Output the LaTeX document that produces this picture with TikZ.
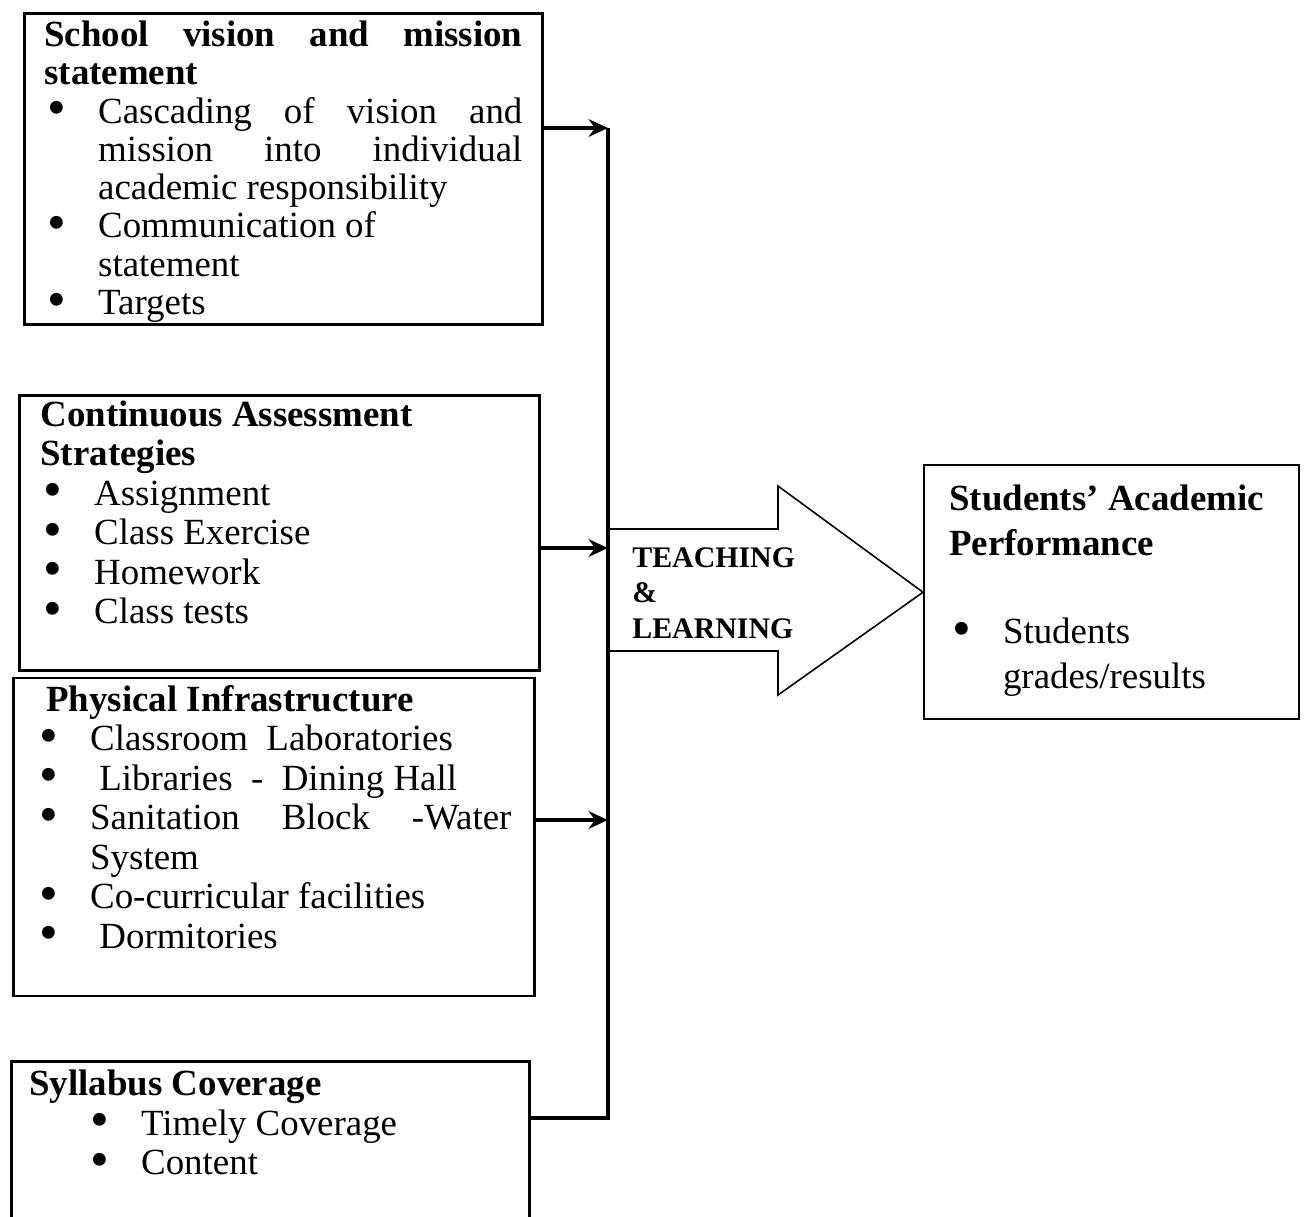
\documentclass[tikz,border=0pt]{standalone}
\usepackage{fontspec}
\setmainfont{Liberation Serif}
\usetikzlibrary{arrows.meta, positioning}
\setlength{\parindent}{0pt}

\newlength{\bulind}\setlength{\bulind}{30.6pt}
\newcommand{\bitem}[1]{\par\hangindent=\bulind\hangafter=1\noindent
  \makebox[\bulind][l]{\hspace{2pt}\raisebox{-0.07em}{\scalebox{1.45}{\textbullet}}}#1}

\begin{document}
\begin{tikzpicture}[>={Stealth[length=11pt,width=10pt]},
  panel/.style={draw, line width=1.6pt, anchor=north west, align=justify,
    inner ysep=0.06cm, font=\fontsize{21}{22.5}\selectfont},
  conn/.style={line width=2.3pt}]
  \useasboundingbox (0,0) rectangle (26.08,-24.32);

  \node[panel, text width=9.56cm, inner xsep=0.4cm, text height=0.6cm,
        text depth=5.5cm, font=\fontsize{21}{21.8}\selectfont]
        (vision) at (0.46,-0.24)
    {\textbf{School vision and mission\linebreak statement}
     \bitem{Cascading of vision and\linebreak mission into individual\linebreak academic responsibility}
     \bitem{Communication of\newline statement}
     \bitem{Targets}\par};
  \node[panel, text width=9.56cm, inner xsep=0.42cm, text height=0.56cm,
        text depth=4.82cm, below=1.36cm of vision.south west,
        anchor=north west, xshift=-0.1cm] (assess)
    {\textbf{Continuous Assessment\newline Strategies}
     \bitem{Assignment}
     \bitem{Class Exercise}
     \bitem{Homework}
     \bitem{Class tests}\par};
  \node[panel, text width=9.5cm, inner xsep=0.46cm, text height=0.6cm,
        text depth=5.64cm, below=0.1cm of assess.south west,
        anchor=north west, xshift=-0.12cm] (infra)
    {\hspace*{0.2cm}\textbf{Physical Infrastructure}
     \bitem{Classroom~ Laboratories}
     \bitem{\ Libraries~ -~ Dining Hall}
     \bitem{Sanitation Block -Water\linebreak System}
     \bitem{Co-curricular facilities}
     \bitem{\ Dormitories}\par};
  \node[panel, text width=9.64cm, inner xsep=0.36cm, text height=0.62cm,
        text depth=2.86cm, below=1.26cm of infra.south west,
        anchor=north west, xshift=-0.04cm] (syllabus)
    {\textbf{Syllabus Coverage}\par\leftskip=1.16cm
     \bitem{Timely Coverage}
     \bitem{Content}\par};

  \node[panel, text width=6.5cm, inner xsep=0.5cm, text height=0.84cm,
        text depth=4.12cm, line width=1.4pt,
        font=\fontsize{21}{25.5}\selectfont] (perf) at (18.46,-9.28)
    {\textbf{Students' Academic\newline Performance}\par\vspace{25pt}
     \bitem{Students\newline grades/results}\par};

  \draw[line width=0.9pt] (12.16,-10.58) -- (15.56,-10.58) -- (15.56,-9.72)
    -- (perf.west) -- (15.56,-13.90) -- (15.56,-13.02) -- (12.16,-13.02) -- cycle;
  \node[anchor=north west, inner sep=0, align=left,
        font=\fontsize{17}{20.4}\selectfont\bfseries] (tl) at (12.64,-10.94)
    {TEACHING\\ \&\\ LEARNING};

  \coordinate (j1) at (12.16,-2.56);
  \coordinate (j2) at (12.16,-10.96);
  \coordinate (j3) at (12.16,-16.40);
  \coordinate (j4) at (12.16,-22.36);

  \draw[conn] (j4 -| syllabus.east) -- (j4) -- (j1);
  \draw[conn, ->] (j1 -| vision.east) -- (j1);
  \draw[conn, ->] (j2 -| assess.east) -- (j2);
  \draw[conn, ->] (j3 -| infra.east) -- (j3);
\end{tikzpicture}
\end{document}
